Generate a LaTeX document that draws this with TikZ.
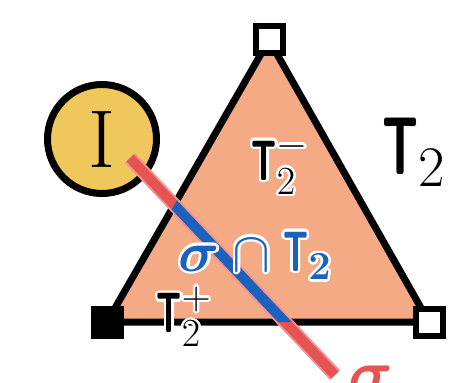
\documentclass[tikz,border=0pt]{standalone}
\usepackage{fix-cm}
\usepackage{amsmath, amssymb, bm}
\usepackage{xcolor}
\usepackage{graphicx}
\usepackage{contour}
\definecolor{facefill}{HTML}{F5AA86}
\definecolor{idxfill}{HTML}{F0C75A}
\definecolor{cutred}{HTML}{E65353}
\definecolor{cutpink}{HTML}{F29494}
\definecolor{cutblue}{HTML}{1A62BE}
\contourlength{2.5pt}
\newcommand{\Tsf}{\scalebox{0.6}[1]{\sffamily\bfseries T}}

\begin{document}
\begin{tikzpicture}[x=1pt, y=-1pt,
  vtx/.style={draw=black, line width=6pt, minimum size=27pt, inner sep=0pt},
  bigfont/.style={font=\fontsize{82}{82}\selectfont},
  midfont/.style={font=\fontsize{57}{57}\selectfont},
  sigfont/.style={font=\fontsize{62}{62}\selectfont}]
  \useasboundingbox (0,0) rectangle (454,382);
  \clip (0,0) rectangle (454,382);
  \coordinate (top) at (269,40);
  \coordinate (bl) at (107,322);
  \coordinate (br) at (429,322);
  \fill[facefill] (top) -- (bl) -- (br) -- cycle;
  \draw[line width=7pt, line join=round] (top) -- (bl) -- (br) -- cycle;
  \node[circle, draw, line width=7pt, fill=idxfill, minimum size=109pt, inner sep=0pt, bigfont] (idx) at (102,139) {I};
  \coordinate (sa) at (130,158);
  \coordinate (sb) at (335,375);
  \draw[cutpink, line width=14pt] (sa) -- (sb);
  \draw[cutred, line width=10pt] (sa) -- (sb);
  \begin{scope}
    \clip (top) -- (bl) -- (br) -- cycle;
    \draw[cutblue, line width=10pt] (sa) -- (sb);
  \end{scope}
  \node[vtx, fill=white] (vtop) at (top) {};
  \node[vtx, fill=black] (vbl) at (bl) {};
  \node[vtx, fill=white] (vbr) at (br) {};
  \node[bigfont] (face) at (414,152) {$\Tsf_2$};
  \node[midfont] (tminus) at (280,165) {\contour{white}{$\Tsf_2^-$}};
  \node[midfont, text=cutblue] (inter) at (255,257) {\contour{white}{$\bm{\sigma}\cap\Tsf_{\mathbf{2}}$}};
  \node[midfont] (tplus) at (184,318) {\contour{white}{$\Tsf_2^+$}};
  \node[sigfont, text=cutred, anchor=base] (sig) at (371,393) {$\bm{\sigma}$};
\end{tikzpicture}
\end{document}
